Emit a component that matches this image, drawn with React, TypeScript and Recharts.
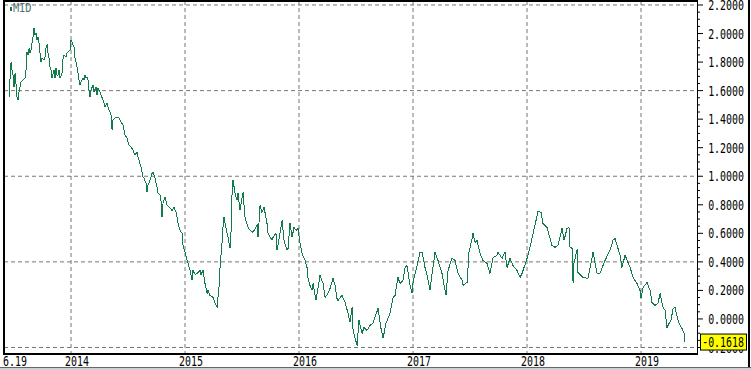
import { LineChart, Line, XAxis, YAxis, CartesianGrid } from "recharts";

// MID series, [fractional year, value]
const mid2013: [number, number][] = [
  [2013.456, 1.554], [2013.465, 1.688], [2013.474, 1.8], [2013.482, 1.744], [2013.491, 1.709],
  [2013.5, 1.625], [2013.509, 1.723], [2013.518, 1.639], [2013.526, 1.554], [2013.535, 1.533],
  [2013.544, 1.59], [2013.561, 1.66], [2013.579, 1.674], [2013.597, 1.688], [2013.605, 1.744],
  [2013.614, 1.87], [2013.623, 1.849], [2013.632, 1.898], [2013.64, 1.863], [2013.649, 1.884],
  [2013.658, 1.933], [2013.667, 1.976], [2013.675, 2.039], [2013.684, 1.99], [2013.693, 2.004],
  [2013.702, 1.954], [2013.711, 1.976], [2013.719, 1.933], [2013.728, 1.863], [2013.737, 1.8],
  [2013.746, 1.828], [2013.763, 1.814], [2013.772, 1.835], [2013.781, 1.905], [2013.79, 1.919],
  [2013.798, 1.863], [2013.807, 1.828], [2013.816, 1.765], [2013.825, 1.744], [2013.833, 1.688],
  [2013.851, 1.744], [2013.86, 1.688], [2013.868, 1.758], [2013.877, 1.709], [2013.886, 1.709],
  [2013.895, 1.744], [2013.904, 1.688], [2013.921, 1.723], [2013.93, 1.828], [2013.939, 1.849],
  [2013.956, 1.835], [2013.965, 1.863], [2013.974, 1.87], [2013.991, 1.884],
];

const mid2014: [number, number][] = [
  [2014.0, 1.954], [2014.009, 1.94], [2014.018, 1.919], [2014.026, 1.905], [2014.035, 1.828],
  [2014.044, 1.8], [2014.053, 1.765], [2014.061, 1.723], [2014.07, 1.674], [2014.079, 1.639],
  [2014.088, 1.66], [2014.105, 1.688], [2014.114, 1.674], [2014.123, 1.709], [2014.132, 1.688],
  [2014.14, 1.695], [2014.149, 1.674], [2014.158, 1.604], [2014.167, 1.554], [2014.175, 1.604],
  [2014.193, 1.639], [2014.202, 1.59], [2014.219, 1.625], [2014.228, 1.569], [2014.237, 1.618],
  [2014.254, 1.59], [2014.263, 1.569], [2014.281, 1.533], [2014.289, 1.512], [2014.298, 1.484],
  [2014.316, 1.512], [2014.333, 1.463], [2014.342, 1.449], [2014.351, 1.428], [2014.36, 1.323],
  [2014.368, 1.393], [2014.386, 1.407], [2014.404, 1.414], [2014.421, 1.407], [2014.439, 1.379],
  [2014.456, 1.358], [2014.474, 1.288], [2014.491, 1.267], [2014.509, 1.218], [2014.526, 1.204],
  [2014.544, 1.183], [2014.561, 1.148], [2014.579, 1.169], [2014.588, 1.134], [2014.596, 1.112],
  [2014.614, 1.063], [2014.623, 1.028], [2014.632, 0.993], [2014.64, 0.986], [2014.658, 0.951],
  [2014.667, 0.888], [2014.675, 0.937], [2014.693, 0.972], [2014.702, 0.993], [2014.711, 1.021],
  [2014.719, 1.028], [2014.737, 0.986], [2014.754, 0.923], [2014.763, 0.881], [2014.781, 0.867],
  [2014.789, 0.832], [2014.798, 0.712], [2014.807, 0.811], [2014.825, 0.853], [2014.842, 0.797],
  [2014.86, 0.783], [2014.868, 0.776], [2014.886, 0.761], [2014.904, 0.783], [2014.921, 0.747],
  [2014.93, 0.712], [2014.939, 0.67], [2014.956, 0.621], [2014.974, 0.6], [2014.982, 0.516],
];

const mid2015: [number, number][] = [
  [2015.0, 0.467], [2015.026, 0.39], [2015.044, 0.34], [2015.061, 0.27], [2015.07, 0.34],
  [2015.088, 0.312], [2015.105, 0.319], [2015.132, 0.34], [2015.14, 0.312], [2015.158, 0.34],
  [2015.175, 0.249], [2015.193, 0.179], [2015.202, 0.2], [2015.219, 0.165], [2015.246, 0.151],
  [2015.263, 0.109], [2015.281, 0.081], [2015.289, 0.151], [2015.298, 0.221], [2015.307, 0.361],
  [2015.325, 0.537], [2015.333, 0.642], [2015.342, 0.712], [2015.36, 0.635], [2015.377, 0.572],
  [2015.395, 0.495], [2015.404, 0.621], [2015.412, 0.867], [2015.421, 0.972], [2015.439, 0.881],
  [2015.456, 0.832], [2015.465, 0.881], [2015.482, 0.761], [2015.509, 0.888], [2015.526, 0.712],
  [2015.553, 0.642], [2015.57, 0.621], [2015.596, 0.607], [2015.632, 0.656], [2015.64, 0.572],
  [2015.649, 0.677], [2015.658, 0.797], [2015.675, 0.747], [2015.693, 0.783], [2015.719, 0.67],
  [2015.728, 0.6], [2015.763, 0.551], [2015.772, 0.572], [2015.798, 0.6], [2015.807, 0.481],
  [2015.833, 0.6], [2015.851, 0.691], [2015.868, 0.551], [2015.895, 0.481], [2015.904, 0.495],
  [2015.921, 0.67], [2015.939, 0.572], [2015.956, 0.642], [2015.974, 0.621], [2015.991, 0.635],
];

const mid2016: [number, number][] = [
  [2016.009, 0.53], [2016.026, 0.46], [2016.053, 0.41], [2016.07, 0.361], [2016.079, 0.284],
  [2016.096, 0.235], [2016.114, 0.2], [2016.123, 0.249], [2016.149, 0.13], [2016.184, 0.305],
  [2016.211, 0.249], [2016.228, 0.151], [2016.254, 0.179], [2016.272, 0.214], [2016.298, 0.284],
  [2016.316, 0.235], [2016.333, 0.144], [2016.342, 0.13], [2016.377, 0.165], [2016.404, 0.116],
  [2016.43, 0.039], [2016.447, -0.024], [2016.465, 0.081], [2016.474, -0.08], [2016.509, -0.186],
  [2016.526, -0.01], [2016.553, -0.101], [2016.57, -0.06], [2016.596, -0.08], [2016.623, -0.045],
  [2016.649, -0.031], [2016.693, 0.074], [2016.719, -0.067], [2016.737, -0.136], [2016.763, -0.031],
  [2016.798, 0.039], [2016.825, 0.151], [2016.842, 0.165], [2016.868, 0.291], [2016.886, 0.249],
  [2016.912, 0.27], [2016.93, 0.361], [2016.947, 0.375], [2016.974, 0.235], [2016.991, 0.179],
];

const mid2017: [number, number][] = [
  [2017.0, 0.256], [2017.026, 0.34], [2017.061, 0.467], [2017.079, 0.467], [2017.105, 0.361],
  [2017.123, 0.305], [2017.149, 0.2], [2017.167, 0.319], [2017.193, 0.467], [2017.219, 0.41],
  [2017.254, 0.319], [2017.289, 0.165], [2017.307, 0.34], [2017.342, 0.425], [2017.368, 0.41],
  [2017.395, 0.319], [2017.43, 0.27], [2017.439, 0.235], [2017.474, 0.256], [2017.491, 0.467],
  [2017.518, 0.565], [2017.526, 0.6], [2017.544, 0.537], [2017.561, 0.551], [2017.588, 0.46],
  [2017.614, 0.41], [2017.649, 0.39], [2017.675, 0.319], [2017.702, 0.432], [2017.737, 0.446],
  [2017.746, 0.467], [2017.781, 0.425], [2017.807, 0.467], [2017.825, 0.361], [2017.851, 0.425],
  [2017.877, 0.375], [2017.912, 0.34], [2017.939, 0.291], [2017.956, 0.319], [2017.974, 0.361],
  [2017.991, 0.397],
];

const mid2018: [number, number][] = [
  [2018.026, 0.502], [2018.053, 0.6], [2018.079, 0.691], [2018.096, 0.754], [2018.123, 0.747],
  [2018.14, 0.67], [2018.175, 0.642], [2018.219, 0.516], [2018.246, 0.502], [2018.272, 0.516],
  [2018.307, 0.635], [2018.325, 0.551], [2018.351, 0.635], [2018.368, 0.642], [2018.377, 0.502],
  [2018.395, 0.495], [2018.404, 0.249], [2018.412, 0.39], [2018.439, 0.488], [2018.447, 0.326],
  [2018.491, 0.291], [2018.535, 0.284], [2018.579, 0.467], [2018.614, 0.319], [2018.64, 0.319],
  [2018.684, 0.41], [2018.728, 0.481], [2018.754, 0.551], [2018.772, 0.565], [2018.816, 0.446],
  [2018.833, 0.361], [2018.86, 0.446], [2018.904, 0.361], [2018.93, 0.291], [2018.965, 0.249],
  [2018.991, 0.2],
];

const mid2019: [number, number][] = [
  [2019.0, 0.144], [2019.018, 0.221], [2019.053, 0.256], [2019.079, 0.2], [2019.096, 0.116],
  [2019.123, 0.095], [2019.149, 0.109], [2019.167, 0.179], [2019.193, 0.081], [2019.211, 0.06],
  [2019.228, -0.06], [2019.246, -0.031], [2019.263, -0.01], [2019.281, 0.074], [2019.298, 0.081],
  [2019.325, -0.01], [2019.342, -0.045], [2019.36, -0.067], [2019.377, -0.101], [2019.386, -0.1618],
];

const firstDateLabel = "6.19";
const yearTicks = [2014, 2015, 2016, 2017, 2018, 2019];
const priceTicks = [-0.2, 0, 0.2, 0.4, 0.6, 0.8, 1.0, 1.2, 1.4, 1.6, 1.8, 2.0, 2.2];
const gridPrices = [2.2, 1.6, 1.0, 0.4, -0.2];

const series = [...mid2013, ...mid2014, ...mid2015, ...mid2016, ...mid2017, ...mid2018, ...mid2019].map(
  ([t, v]) => ({ t, v })
);
const firstT = series[0].t;
const lastValue = series[series.length - 1].v;

const minorTicks: number[] = [];
priceTicks.slice(0, -1).forEach((p) => {
  [0.05, 0.1, 0.15].forEach((s) => minorTicks.push(Math.round((p + s) * 100) / 100));
});
const yTicks = [...priceTicks, ...minorTicks, lastValue];

const LINE = "#137a4c";
const FONT = "'DejaVu Sans Mono', monospace";

function isMajor(v: number) {
  return Math.abs(v * 5 - Math.round(v * 5)) < 1e-6;
}

function PriceTick({ x, y, payload }: any) {
  const v = payload.value as number;
  if (v === lastValue) {
    return (
      <g>
        <rect x={x + 3.5} y={y - 8} width={46} height={16} fill="#ffff00" stroke="#000" />
        <g transform={`translate(${x + 47},${y}) scale(0.71,1)`}>
          <text textAnchor="end" dy="0.36em" fontFamily={FONT} fontSize={14} fill="#000">
            {v.toFixed(4)}
          </text>
        </g>
      </g>
    );
  }
  const major = isMajor(v);
  return (
    <g>
      <line x1={x} x2={x + (major ? 6 : 3)} y1={y} y2={y} stroke="#000" />
      {major && (
        <g transform={`translate(${x + 47},${y}) scale(0.71,1)`}>
          <text textAnchor="end" dy="0.36em" fontFamily={FONT} fontSize={14} fill="#000">
            {v.toFixed(4)}
          </text>
        </g>
      )}
    </g>
  );
}

function DateTick({ x, y, payload }: any) {
  const label = payload.value === firstT ? firstDateLabel : String(payload.value);
  return (
    <g transform={`translate(${x - 6},${y + 11.5}) scale(0.71,1)`}>
      <text textAnchor="start" fontFamily={FONT} fontSize={14} fill="#000">
        {label}
      </text>
    </g>
  );
}

const bar = (left: number, top: number, width: number, height: number, bg = "#000") => (
  <div style={{ position: "absolute", left, top, width, height, background: bg }} />
);

export default function App() {
  return (
    <div style={{ position: "relative", width: 751, height: 370, background: "#fff", overflow: "hidden" }}>
      <style>{"body{margin:0}"}</style>
      <LineChart width={751} height={370} data={series} margin={{ top: 1, right: 0, left: 4, bottom: 0 }}>
        <CartesianGrid
          stroke="#777"
          strokeDasharray="4 3"
          horizontalValues={gridPrices}
          verticalValues={yearTicks}
        />
        <XAxis
          type="number"
          dataKey="t"
          domain={[2013.412, 2019.491]}
          allowDataOverflow
          ticks={[firstT, ...yearTicks]}
          interval={0}
          height={16}
          tickSize={0}
          tickMargin={0}
          tickLine={false}
          axisLine={false}
          tick={(p: any) => <DateTick {...p} />}
        />
        <YAxis
          orientation="right"
          width={54}
          domain={[-0.2456, 2.228]}
          allowDataOverflow
          ticks={yTicks}
          interval={0}
          tickSize={0}
          tickMargin={0}
          tickLine={false}
          axisLine={false}
          tick={(p: any) => <PriceTick {...p} />}
        />
        <Line
          type="linear"
          dataKey="v"
          stroke={LINE}
          strokeWidth={1}
          shapeRendering="crispEdges"
          dot={false}
          isAnimationActive={false}
        />
      </LineChart>
      {bar(3, 0, 695, 2)}
      {bar(3, 0, 2, 355)}
      {bar(3, 353, 695, 2)}
      {bar(697, 0, 1, 355)}
      {bar(748, 0, 2, 370)}
      {bar(0, 367, 751, 1, "#666")}
      {bar(0, 368, 751, 2, "#d0d0d0")}
      <div style={{ position: "absolute", left: 10, top: 7, width: 2, height: 4, background: LINE }} />
      <div
        style={{
          position: "absolute",
          left: 13,
          top: 2,
          fontFamily: FONT,
          fontSize: 12,
          lineHeight: "12px",
          color: "#4f6f6b",
          transform: "scaleX(0.85)",
          transformOrigin: "left",
        }}
      >
        MID
      </div>
    </div>
  );
}
